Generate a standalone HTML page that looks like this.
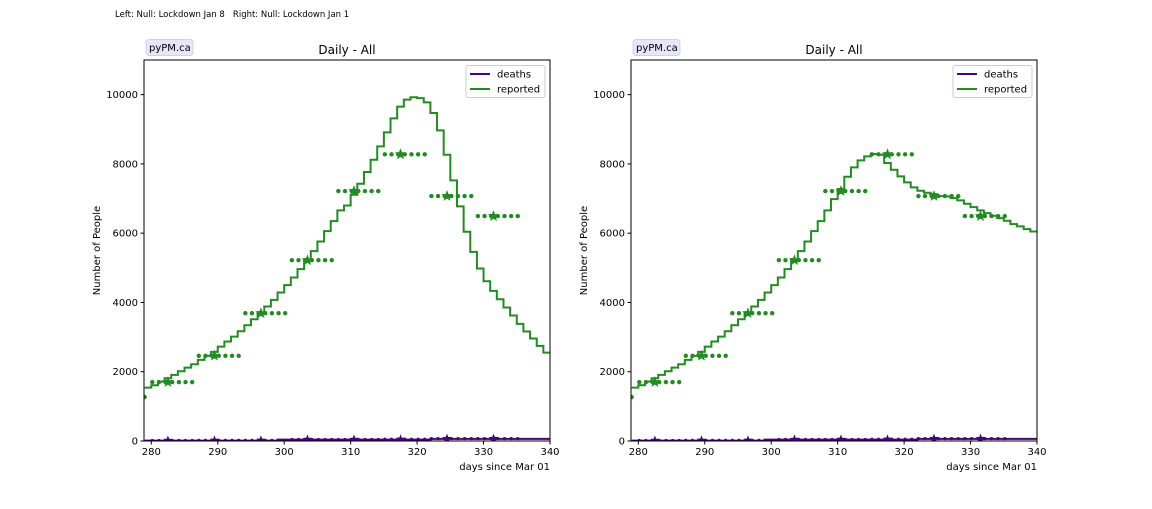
<!DOCTYPE html>
<html><head><meta charset="utf-8"><style>
body{margin:0;background:#fff;width:1152px;height:504px;overflow:hidden;font-family:"Liberation Sans","DejaVu Sans",sans-serif}
svg text{font-family:"DejaVu Sans","Liberation Sans",sans-serif}
</style></head><body>
<svg id="fig" width="1152" height="504" xmlns="http://www.w3.org/2000/svg">
<text x="115" y="17" font-size="8.5" fill="#000" style="white-space:pre" xml:space="preserve">Left: Null: Lockdown Jan 8   Right: Null: Lockdown Jan 1</text>
</svg>
<script>
const days = [279,280,281,282,283,284,285,286,287,288,289,290,291,292,293,294,295,296,297,298,299,300,301,302,303,304,305,306,307,308,309,310,311,312,313,314,315,316,317,318,319,320,321,322,323,324,325,326,327,328,329,330,331,332,333,334,335,336,337,338,339];
const reportedLeft = [1541,1609,1715,1811,1908,2013,2119,2216,2341,2457,2572,2726,2871,3015,3170,3343,3516,3709,3882,4075,4287,4499,4721,4961,5202,5482,5761,6060,6349,6657,6800,7110,7428,7765,8121,8507,8911,9316,9653,9855,9923,9900,9778,9470,8969,8266,7524,6773,6040,5462,4980,4614,4335,4094,3853,3622,3381,3160,2958,2746,2553];
const reportedRight = [1541,1609,1715,1811,1908,2013,2119,2216,2341,2457,2572,2726,2871,3015,3170,3343,3516,3709,3882,4075,4287,4499,4721,4961,5202,5482,5761,6060,6349,6657,6985,7274,7630,7900,8102,8218,8285,8266,8025,7832,7640,7466,7322,7225,7168,7129,7071,7062,7013,6946,6850,6753,6657,6580,6503,6435,6358,6262,6195,6118,6050];
const deathsDaily = [10,10,10,10,10,10,10,10,10,10,10,10,10,10,10,10,10,10,10,10,40,40,40,40,40,40,40,40,40,40,40,40,40,40,40,40,40,40,40,40,40,40,40,60,60,60,60,60,60,60,60,60,60,60,60,60,60,60,60,60,60];
const weekStarts = [280,287,294,301,308,315,322,329];
const weeklyReported = [1700,2460,3690,5220,7216,8276,7071,6493];
const weeklyDeaths = [15,20,20,45,45,50,70,70];
const firstPointDay = 279;
const firstPointValue = 1270;
const xTicks = [280,290,300,310,320,330,340];
const yTicks = [0,2000,4000,6000,8000,10000];
const xMin = 278.9, xMax = 340, yMin = 0, yMax = 11000;

const NS = "http://www.w3.org/2000/svg";
const fig = document.getElementById('fig');
function mk(tag, attrs, parent){const e=document.createElementNS(NS,tag);for(const k in attrs)e.setAttribute(k,attrs[k]);(parent||fig).appendChild(e);return e;}
function star(cx,cy,r){let p=[];for(let i=0;i<10;i++){const a=-Math.PI/2+i*Math.PI/5;const rr=i%2?r*0.42:r;p.push((cx+rr*Math.cos(a)).toFixed(1)+','+(cy+rr*Math.sin(a)).toFixed(1));}return p.join(' ');}

function drawChart(x0, reported, prefix){
  const L=x0, R=x0+406, T=60, B=441;
  const sx = d => L + (d - xMin) / (xMax - xMin) * (R - L);
  const sy = v => B - (v - yMin) / (yMax - yMin) * (B - T);
  const g = mk('g',{});
  
  
  const clip = mk('clipPath',{id:prefix+'clip'},g);
  mk('rect',{x:L,y:T,width:R-L,height:B-T},clip);
  const plot = mk('g',{'clip-path':'url(#'+prefix+'clip)'},g);
  let d='';
  days.forEach((dd,i)=>{const y=sy(reported[i]);d+=(i?'L':'M')+sx(dd)+','+y+'L'+sx(dd+1)+','+y;});
  const rl = mk('path',{d:d,fill:'none',stroke:'#228b22','stroke-width':2},plot);
  
  
  let dd2='';
  days.forEach((dd,i)=>{const y=sy(deathsDaily[i]);dd2+=(i?'L':'M')+sx(dd)+','+y+'L'+sx(dd+1)+','+y;});
  const dl = mk('path',{d:dd2,fill:'none',stroke:'#4b0082','stroke-width':2},plot);
  
  
  weekStarts.forEach((w,i)=>{
    for(let k=0;k<7;k++){
      const c = mk('circle',{cx:sx(w+k+0.15),cy:sy(weeklyReported[i]),r:2.2,fill:'#228b22'},plot);
      
      
      const c2 = mk('circle',{cx:sx(w+k+0.15),cy:sy(weeklyDeaths[i]),r:1.6,fill:'#4b0082'},plot);
      
      
    }
    const s = mk('polygon',{points:star(sx(w+2.5),sy(weeklyReported[i]),6),fill:'#228b22'},plot);
    
    
    const s2 = mk('polygon',{points:star(sx(w+2.5),sy(weeklyDeaths[i]),5),fill:'#4b0082'},plot);
    
    
  });
  const fp = mk('circle',{cx:sx(firstPointDay),cy:sy(firstPointValue),r:2.2,fill:'#228b22'},plot);
  
  
  const fr = mk('rect',{x:L,y:T,width:R-L,height:B-T,fill:'none',stroke:'#000','stroke-width':1},g);
  
  
  xTicks.forEach(t=>{
    const x=sx(t);
    mk('line',{x1:x,x2:x,y1:B,y2:B+3.5,stroke:'#000'},g);
    const tx = mk('text',{x:x,y:B+14,'font-size':10,'text-anchor':'middle'},g);
    tx.textContent=t;
    
    
  });
  yTicks.forEach(t=>{
    const y=sy(t);
    mk('line',{x1:L-3.5,x2:L,y1:y,y2:y,stroke:'#000'},g);
    const tx = mk('text',{x:L-6,y:y+3.5,'font-size':10,'text-anchor':'end'},g);
    tx.textContent=t;
    
    
  });
  const ti = mk('text',{x:(L+R)/2,y:54,'font-size':12,'text-anchor':'middle'},g);
  ti.textContent='Daily - All';
  
  
  const badge = mk('rect',{x:L+2,y:39.5,width:47,height:16,rx:3,fill:'#e6e6fa',stroke:'#d0d0ee'},g);
  
  
  const bt = mk('text',{x:L+5,y:51,'font-size':10},g);
  bt.textContent='pyPM.ca';
  
  
  const yl = mk('text',{x:0,y:0,'font-size':10,'text-anchor':'middle',transform:'translate('+(L-44)+','+((T+B)/2)+') rotate(-90)'},g);
  yl.textContent='Number of People';
  
  
  const xl = mk('text',{x:R,y:470,'font-size':10,'text-anchor':'end'},g);
  xl.textContent='days since Mar 01';
  
  
  const lg = mk('g',{},g);
  
  
  mk('rect',{x:R-84,y:65.5,width:79,height:32,rx:2,fill:'#fff',stroke:'#ccc'},lg);
  [['deaths','#4b0082',74],['reported','#228b22',89]].forEach(([n,c,y])=>{
    const e = mk('g',{},lg);
    
    
    mk('line',{x1:R-80,x2:R-60,y1:y,y2:y,stroke:c,'stroke-width':2},e);
    const t = mk('text',{x:R-53,y:y+3.5,'font-size':10},e);
    t.textContent=n;
  });
}
drawChart(144, reportedLeft, 'left');
drawChart(631, reportedRight, 'right');
</script>
</body></html>
